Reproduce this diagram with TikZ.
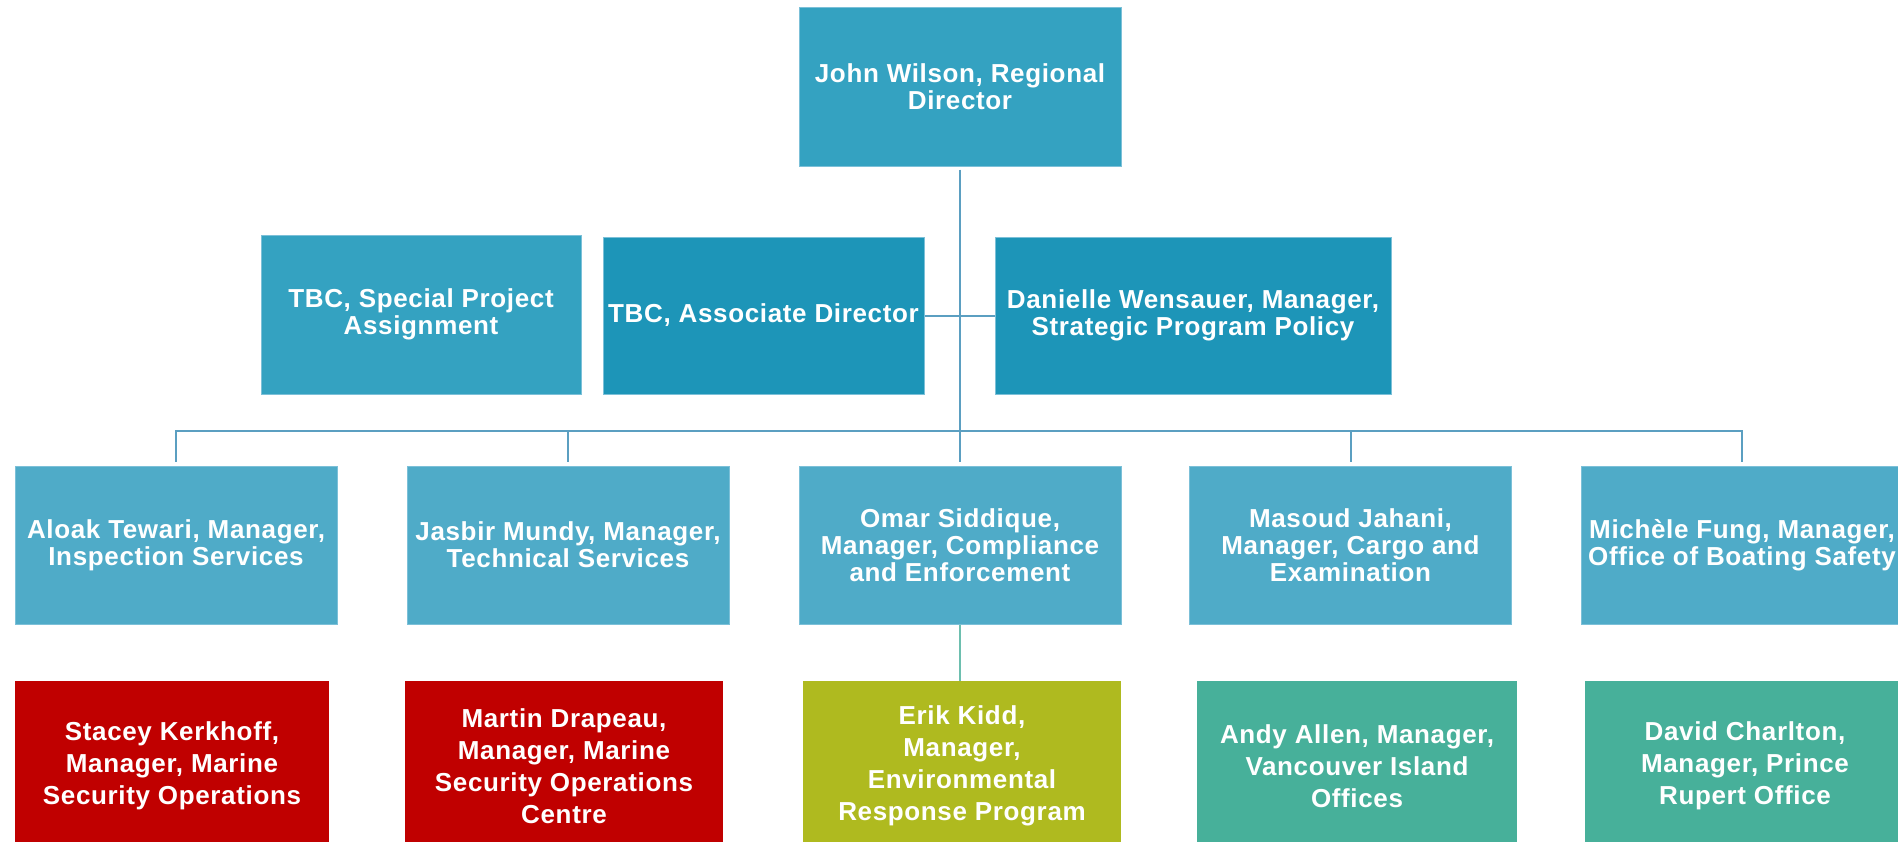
\documentclass[tikz,border=0pt]{standalone}
\usepackage{fontspec}
\setmainfont{Liberation Sans}[LetterSpace=2.5]
\definecolor{topblue}{HTML}{34A2C1}
\definecolor{staffblue}{HTML}{1D95B8}
\definecolor{mgrblue}{HTML}{4FABC8}
\definecolor{boxedge}{HTML}{7CC0D8}
\definecolor{msored}{HTML}{C00000}
\definecolor{envolive}{HTML}{AFBA1F}
\definecolor{offgreen}{HTML}{47B09A}
\definecolor{linkblue}{HTML}{5B9FC1}
\definecolor{linkteal}{HTML}{6DBFAF}

\begin{document}
\begin{tikzpicture}[x=0.5pt,y=-0.5pt]
        \tikzstyle{every node} = [rectangle, text=white, align=center, inner sep=0pt,
                font=\bfseries\fontsize{13}{13.5}\selectfont]
        \tikzstyle{topbox} = [fill=topblue, draw=boxedge, line width=0.5pt, minimum height=79.5pt]
        \tikzstyle{staffbox} = [fill=staffblue, draw=boxedge, line width=0.5pt, minimum height=78.5pt]
        \tikzstyle{mgrbox} = [fill=mgrblue, draw=boxedge, line width=0.5pt, minimum width=161pt, minimum height=79pt]
        \tikzstyle{subbox} = [minimum height=85pt, font=\bfseries\fontsize{13}{16}\selectfont]
        \tikzstyle{link} = [draw=linkblue, line width=1pt]
        \useasboundingbox (0,0) rectangle (1898,841);
        \clip (0,0) rectangle (1898,841);
        % director and staff
        \node[topbox, minimum width=161pt] (jw) at (960,86.5) {John Wilson, Regional\\Director};
        \node[topbox, minimum width=160pt] (tbcsp) at (421,314.5) {TBC, Special Project\\Assignment};
        \node[staffbox, minimum width=160.5pt] (tbcad) at (763.5,315.5) {TBC, Associate Director};
        \node[staffbox, minimum width=198pt] (dw) at (1193,315.5) {Danielle Wensauer, Manager,\\Strategic Program Policy};
        % managers
        \node[mgrbox] (at) at (176,545) {Aloak Tewari, Manager,\\Inspection Services};
        \node[mgrbox] (jm) at (568,545) {Jasbir Mundy, Manager,\\Technical Services};
        \node[mgrbox] (os) at (960,545) {Omar Siddique,\\Manager, Compliance\\and Enforcement};
        \node[mgrbox] (mj) at (1350.5,545) {Masoud Jahani,\\Manager, Cargo and\\Examination};
        \node[mgrbox] (mf) at (1742,545) {Mich\`ele Fung, Manager,\\Office of Boating Safety};
        % offices
        \node[subbox, fill=msored, minimum width=157pt] (sk) at (172,766) {Stacey Kerkhoff,\\Manager, Marine\\Security Operations};
        \node[subbox, fill=msored, minimum width=159pt] (md) at (564,766) {Martin Drapeau,\\Manager, Marine\\Security Operations\\Centre};
        \node[subbox, fill=envolive, minimum width=159pt] (ek) at (962,766) {Erik Kidd,\\Manager,\\Environmental\\Response Program};
        \node[subbox, fill=offgreen, minimum width=160pt] (aa) at (1357,766) {Andy Allen, Manager,\\Vancouver Island\\Offices};
        \node[subbox, fill=offgreen, minimum width=160pt] (dc) at (1745,766) {David Charlton,\\Manager, Prince\\Rupert Office};
        \coordinate (bus) at (960,431);
        \draw[link, shorten <=1.5pt, shorten >=2pt] (jw) -- (os);
        \draw[link] (tbcad.east) -- (dw.west);
        \draw[link, shorten <=2pt, shorten >=2pt] (at.north) |- (bus) -| (mf.north);
        \foreach \n in {jm,mj}
            \draw[link, shorten <=2pt] (\n.north) -- (\n.north |- bus);
        \draw[draw=linkteal, line width=0.6pt] (os.south) -- (os.south |- ek.north);
\end{tikzpicture}
\end{document}
